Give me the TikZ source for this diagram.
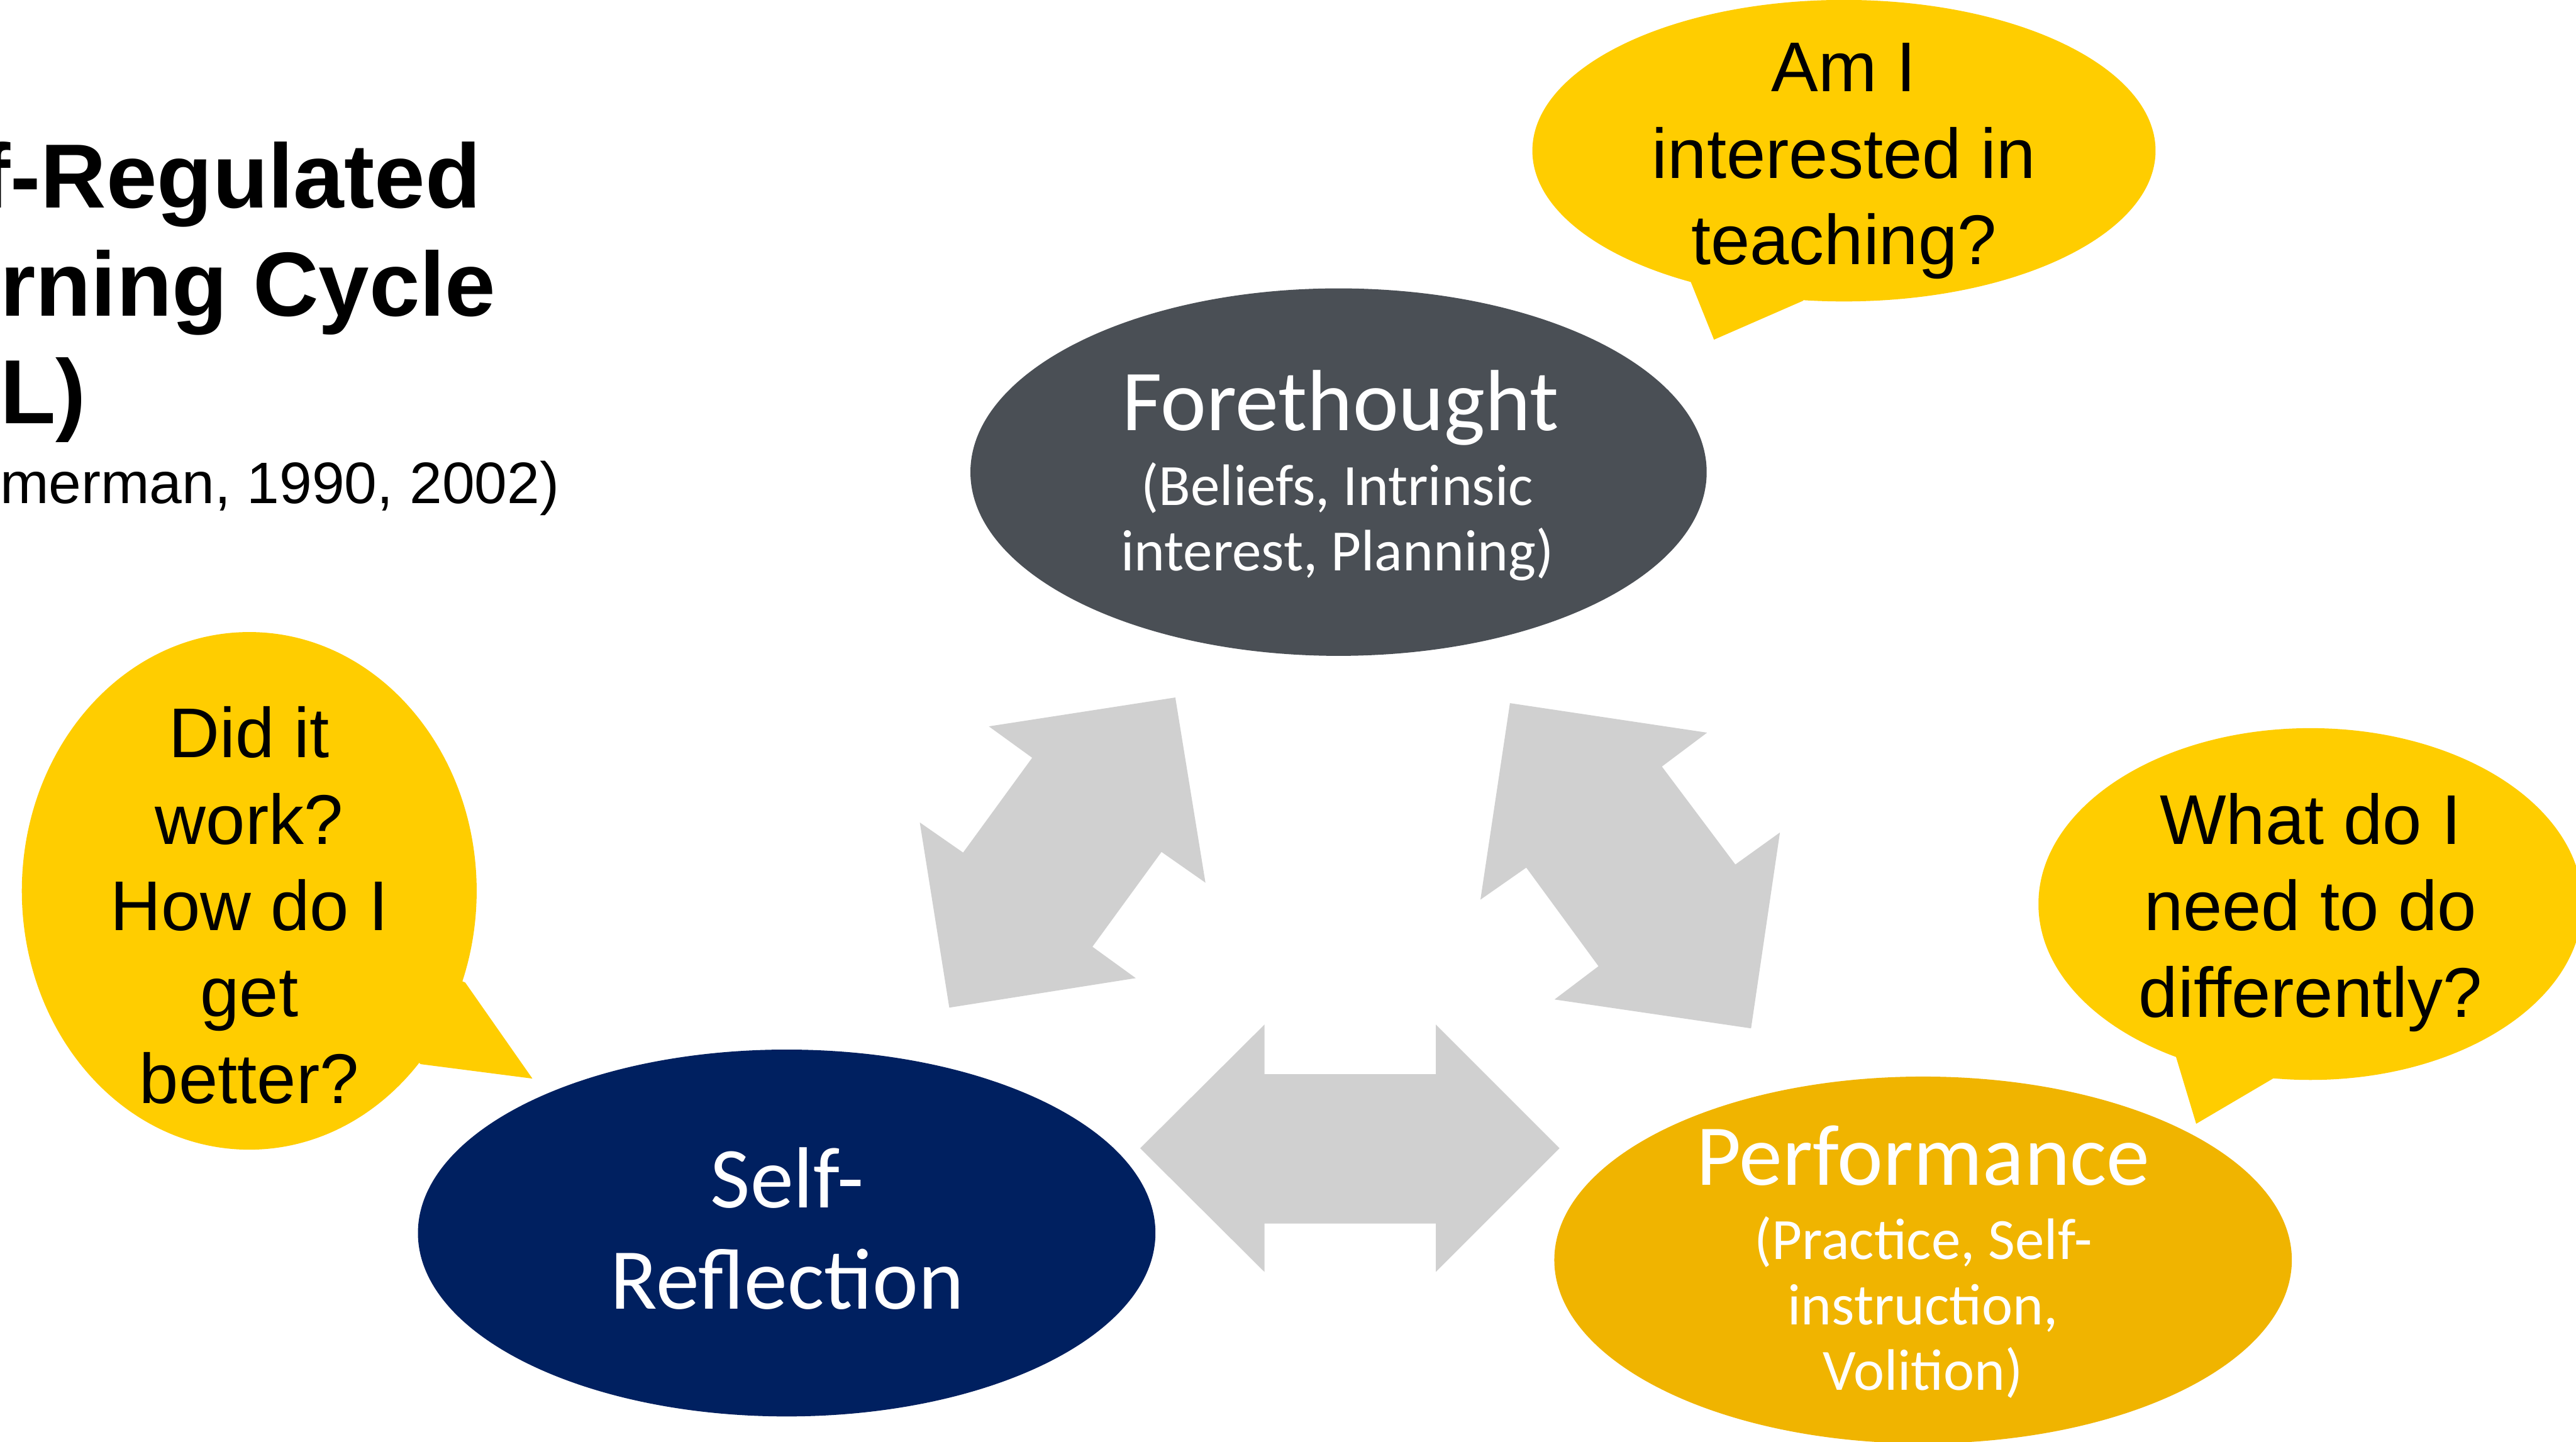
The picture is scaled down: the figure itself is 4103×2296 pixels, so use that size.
\documentclass[tikz,border=0pt]{standalone}
\usepackage{fontspec}
\newfontfamily\arialf{Liberation Sans}
\newfontfamily\calf{Carlito}
\usetikzlibrary{shapes.geometric}

\definecolor{foregray}{HTML}{4A4F55}
\definecolor{reflnavy}{HTML}{002060}
\definecolor{perfgold}{HTML}{F0B400}
\definecolor{askyellow}{HTML}{FFCD00}
\definecolor{arrowgray}{HTML}{D0D0D0}

% centred block of lines whose baseline is the first line
\newcommand{\linesc}[1]{\begin{tabular}[t]{@{}c@{}}#1\end{tabular}}

\begin{document}
\begin{tikzpicture}[x=0.01cm, y=-0.01cm,
  blob/.style={ellipse, inner sep=0pt, outer sep=0pt},
  txt/.style={inner sep=0pt, outer sep=0pt, anchor=base},
  heading/.style={inner sep=0pt, outer sep=0pt, anchor=base west,
    font=\arialf\bfseries\fontsize{41.25}{48.9}\selectfont},
  citation/.style={inner sep=0pt, outer sep=0pt, anchor=base west,
    font=\arialf\fontsize{26.5}{31}\selectfont},
  ask/.style={txt, font=\arialf\fontsize{31.9}{39.1}\selectfont},
  stage/.style={txt, text=white, font=\calf\fontsize{39.3}{45.8}\selectfont},
  stagesub/.style={txt, text=white, font=\calf\fontsize{26.5}{29.6}\selectfont},
  cyclearrow/.style={fill=arrowgray},
  bubble/.style={blob, fill=askyellow},
]
\useasboundingbox (0,0) rectangle (4103,2296);
\fill[white] (0,0) rectangle (4103,2296);

% heading and reference
\node[heading] (head1) at (-32,331) {f-Regulated};
\node[heading] (head2) at (0,503) {rning Cycle};
\node[heading] (head3) at (0,675) {L)};
\node[citation] (cite) at (0,802) {merman, 1990, 2002)};

% block arrows between the three phases
\fill[cyclearrow] (1872,1111) -- (1920,1406) -- (1850,1357) -- (1740,1508)
  -- (1809,1558) -- (1512,1605) -- (1465,1310) -- (1534,1358)
  -- (1644,1207) -- (1575,1157) -- cycle;
\fill[cyclearrow] (2405,1120) -- (2719,1167) -- (2647,1221) -- (2764,1377)
  -- (2835,1326) -- (2789,1638) -- (2476,1592) -- (2546,1539)
  -- (2431,1382) -- (2358,1433) -- cycle;
\fill[cyclearrow] (1816,1829) -- (2014,1632) -- (2014,1711) -- (2287,1711)
  -- (2287,1632) -- (2484,1829) -- (2287,2026) -- (2287,1949)
  -- (2014,1949) -- (2014,2026) -- cycle;

% phase ellipses
\node[blob, fill=foregray, minimum width=11.72cm, minimum height=5.85cm] (fore) at (2132,752) {};
\node[blob, fill=reflnavy, minimum width=11.74cm, minimum height=5.84cm] (refl) at (1253,1964) {};
\node[blob, fill=perfgold, minimum width=11.74cm, minimum height=5.84cm] (perf) at (3063,2007) {};

\node[stage] (fore-t) at (2135,686) {Forethought};
\node[stagesub] (fore-s) at (2130,805) {\linesc{(Beliefs, Intrinsic\\interest, Planning)}};
\node[stage] (refl-t) at (1254,1924) {\linesc{Self-\\Reflection}};
\node[stage] (perf-t) at (3063,1888) {Performance};
\node[stagesub] (perf-s) at (3063,2006) {\linesc{(Practice, Self-\\instruction,\\Volition)}};

% speech bubbles
\node[bubble, minimum width=9.92cm, minimum height=4.80cm] (q1) at (2937,240) {};
\fill[askyellow] (q1.center) -- (2693,449) -- (2730,541) -- (2872,479) -- cycle;
\node[ask] (q1-t) at (2937,146) {\linesc{Am I\\interested in\\teaching?}};

\node[bubble, minimum width=7.24cm, minimum height=8.24cm] (q2) at (397,1419) {};
\fill[askyellow] (q2.center) -- (741,1565) -- (848,1718) -- (670,1695) -- cycle;
\node[ask] (q2-t) at (397,1207) {\linesc{Did it\\work?\\How do I\\get\\better?}};

\node[bubble, minimum width=8.66cm, minimum height=5.60cm] (q3) at (3680,1440) {};
\fill[askyellow] (q3.center) -- (3466,1684) -- (3498,1790) -- (3622,1717) -- cycle;
\node[ask] (q3-t) at (3680,1345) {\linesc{What do I\\need to do\\differently?}};
\end{tikzpicture}
\end{document}
